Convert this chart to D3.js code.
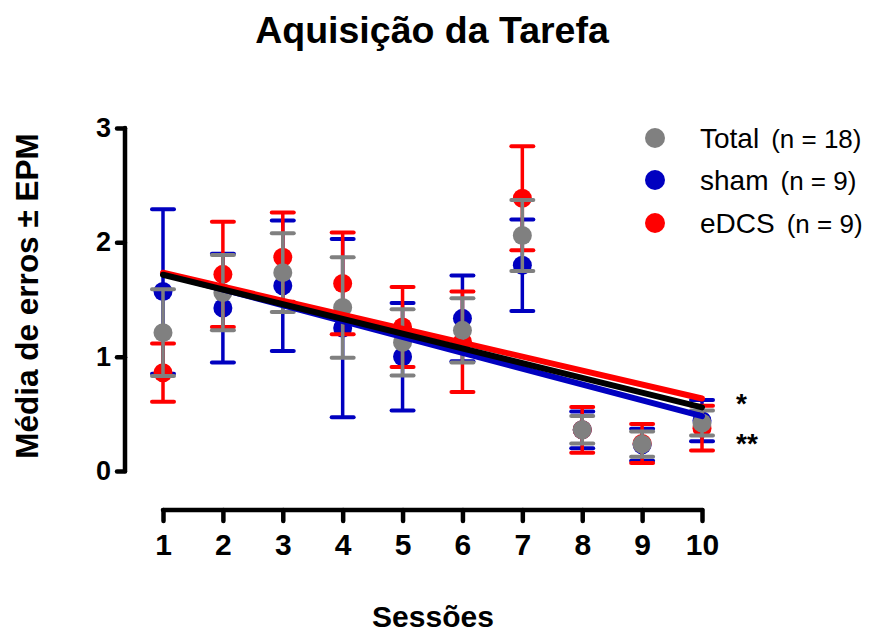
<!DOCTYPE html>
<html>
<head>
<meta charset="utf-8">
<script src="https://cdn.jsdelivr.net/npm/d3@7/dist/d3.min.js"></script>
<style>
  html, body { margin: 0; padding: 0; background: #fff; }
  svg { display: block; font-family: Arial, "Liberation Sans", Helvetica, sans-serif; }
</style>
</head>
<body>
<svg id="chart" width="877" height="635"></svg>
<script>
// Sessions and group means ± SEM (errors per session)
const sessions  = [1, 2, 3, 4, 5, 6, 7, 8, 9, 10];
const totalMean = [1.21, 1.56, 1.735, 1.43, 1.125, 1.23, 2.06, 0.36, 0.235, 0.42];
const totalSem  = [0.38, 0.33, 0.345, 0.44, 0.29, 0.28, 0.31, 0.12, 0.11, 0.11];
const shamMean  = [1.57, 1.425, 1.62, 1.25, 1.0, 1.335, 1.80, 0.36, 0.23, 0.44];
const shamSem   = [0.72, 0.475, 0.57, 0.78, 0.47, 0.375, 0.40, 0.16, 0.14, 0.18];
const edcsMean  = [0.86, 1.72, 1.87, 1.64, 1.26, 1.13, 2.385, 0.36, 0.24, 0.375];
const edcsSem   = [0.255, 0.46, 0.39, 0.445, 0.35, 0.44, 0.455, 0.20, 0.17, 0.195];
const yTicks    = [0, 1, 2, 3];
const legendLabels = [["Total", "(n = 18)"], ["sham", "(n = 9)"], ["eDCS", "(n = 9)"]];
const significance = ["*", "**"];

const colors = { total: "#808080", sham: "#0000c0", edcs: "#ff0000" };

const svg = d3.select("#chart");
const x = d3.scaleLinear().domain([1, 10]).range([163, 702]);
const y = d3.scaleLinear().domain([0, 3]).range([471, 128]);

// Title
svg.append("text")
  .attr("x", 432).attr("y", 43)
  .attr("text-anchor", "middle")
  .attr("font-size", 37.5).attr("font-weight", "bold")
  .text("Aquisição da Tarefa");

// Y axis
const yAxis = svg.append("g").attr("transform", "translate(125,0)")
  .call(d3.axisLeft(y).tickValues(yTicks).tickFormat(d3.format("d")).tickSize(8).tickPadding(6));
yAxis.select(".domain").attr("d", `M0,${y(3)}V${y(0)}`)
  .attr("stroke", "#000").attr("stroke-width", 4.5).attr("stroke-linecap", "round");
yAxis.selectAll(".tick line").attr("stroke", "#000").attr("stroke-width", 4.5).attr("stroke-linecap", "round");
yAxis.selectAll(".tick text").attr("font-size", 27).attr("font-weight", "bold")
  .attr("font-family", "Arial, 'Liberation Sans', sans-serif").attr("fill", "#000");

// X axis
const xAxis = svg.append("g").attr("transform", "translate(0,510)")
  .call(d3.axisBottom(x).tickValues(sessions).tickFormat(d3.format("d")).tickSize(11).tickPadding(13));
xAxis.select(".domain").attr("d", `M${x(1)},0H${x(10)}`)
  .attr("stroke", "#000").attr("stroke-width", 4.5).attr("stroke-linecap", "round");
xAxis.selectAll(".tick line").attr("stroke", "#000").attr("stroke-width", 4.5).attr("stroke-linecap", "round");
xAxis.selectAll(".tick text").attr("font-size", 30).attr("font-weight", "bold")
  .attr("font-family", "Arial, 'Liberation Sans', sans-serif").attr("fill", "#000");

// Axis titles
svg.append("text")
  .attr("transform", "translate(38,296) rotate(-90)")
  .attr("text-anchor", "middle")
  .attr("font-size", 31.5).attr("font-weight", "bold")
  .text("Média de erros ± EPM");
svg.append("text")
  .attr("x", 433).attr("y", 627)
  .attr("text-anchor", "middle")
  .attr("font-size", 30).attr("font-weight", "bold")
  .text("Sessões");

// Group series: drawn sham, eDCS, then Total on top
const series = [
  { key: "sham",  mean: shamMean,  sem: shamSem,  color: colors.sham },
  { key: "edcs",  mean: edcsMean,  sem: edcsSem,  color: colors.edcs },
  { key: "total", mean: totalMean, sem: totalSem, color: colors.total }
];

const capHalf = 11;
series.forEach(s => {
  const g = svg.append("g").attr("class", "series-" + s.key);
  const rows = sessions.map((d, i) => ({ x: d, m: s.mean[i], e: s.sem[i] }));
  const bars = g.selectAll("g.bar").data(rows).enter().append("g").attr("class", "bar");
  bars.append("line")
    .attr("x1", d => x(d.x)).attr("x2", d => x(d.x))
    .attr("y1", d => y(d.m + d.e)).attr("y2", d => y(d.m - d.e))
    .attr("stroke", s.color).attr("stroke-width", 3.5);
  [1, -1].forEach(sign => {
    bars.append("line")
      .attr("x1", d => x(d.x) - capHalf).attr("x2", d => x(d.x) + capHalf)
      .attr("y1", d => y(d.m + sign * d.e)).attr("y2", d => y(d.m + sign * d.e))
      .attr("stroke", s.color).attr("stroke-width", 4).attr("stroke-linecap", "round");
  });
  bars.append("circle")
    .attr("cx", d => x(d.x)).attr("cy", d => y(d.m)).attr("r", 9.5)
    .attr("fill", s.color);
});

// Least-squares trend line for each group over sessions 1–10
function fit(xs, ys) {
  const n = xs.length;
  const mx = d3.mean(xs), my = d3.mean(ys);
  let sxy = 0, sxx = 0;
  for (let i = 0; i < n; i++) { sxy += (xs[i] - mx) * (ys[i] - my); sxx += (xs[i] - mx) ** 2; }
  const b = sxy / sxx;
  return v => my + b * (v - mx);
}
const trendOrder = [
  { mean: shamMean, color: colors.sham },
  { mean: edcsMean, color: colors.edcs },
  { mean: totalMean, color: "#000" }
];
const line = d3.line().x(d => x(d[0])).y(d => y(d[1]));
trendOrder.forEach(t => {
  const f = fit(sessions, t.mean);
  const ends = [1, 10].map(v => [v, f(v)]);
  svg.append("path").attr("d", line(ends))
    .attr("fill", "none").attr("stroke", t.color).attr("stroke-width", 6).attr("stroke-linecap", "round");
});

// Significance markers
svg.append("text").attr("x", 736).attr("y", 413)
  .attr("font-size", 28).attr("font-weight", "bold").text(significance[0]);
svg.append("text").attr("x", 736).attr("y", 453)
  .attr("font-size", 28).attr("font-weight", "bold").text(significance[1]);

// Legend
const legendColors = [colors.total, colors.sham, colors.edcs];
const legendY = [138, 180, 223];
legendLabels.forEach((lab, i) => {
  svg.append("circle").attr("cx", 655).attr("cy", legendY[i]).attr("r", 10).attr("fill", legendColors[i]);
  const t = svg.append("text").attr("x", 700).attr("y", legendY[i] + 10);
  t.append("tspan").attr("font-size", 28).text(lab[0]);
  t.append("tspan").attr("font-size", 26).attr("dx", 12).text(lab[1]);
});
</script>
</body>
</html>
